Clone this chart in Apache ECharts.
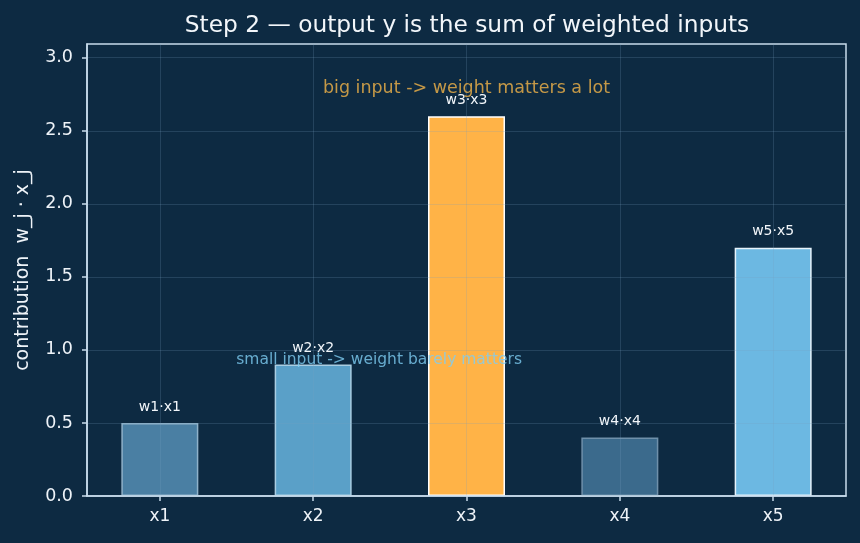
<!DOCTYPE html>
<html>
<head>
<meta charset="utf-8">
<title>weighted inputs</title>
<style>
  html, body { margin: 0; padding: 0; background: #0d2a42; }
  #chart { width: 860px; height: 543px; }
</style>
</head>
<body>
<div id="chart"></div>
<script src="https://cdn.jsdelivr.net/npm/echarts@6/dist/echarts.min.js"></script>
<script>
// data
var inputs = ['x1', 'x2', 'x3', 'x4', 'x5'];
var contrib = [0.5, 0.9, 2.6, 0.4, 1.7];
var barLabels = ['w1·x1', 'w2·x2', 'w3·x3', 'w4·x4', 'w5·x5'];
var xTicks = [0, 1, 2, 3, 4];
var yTicks = [0, 0.5, 1.0, 1.5, 2.0, 2.5, 3.0];
// annotations: [x, y, text]
var notes = [
  [2, 2.79, 'big input -> weight matters a lot'],
  [1.43, 0.93, 'small input -> weight barely matters']
];

var fills = ['#4a7fa3', '#5aa0c8', '#ffb347', '#3b6a8c', '#6cb8e2'];
var borders = ['#8fb2ca', '#a9cde2', '#ffffff', '#6f90aa', '#e6f3fc'];
var noteColors = ['#f2b448', '#7ecdf2'];

var frame = '#c8dcec';
var gridCol = 'rgba(120,160,190,0.22)';
var font = 'DejaVu Sans';

var barData = contrib.map(function (v, i) {
  return {
    value: [i, v],
    itemStyle: { color: fills[i], borderColor: borders[i], borderWidth: 1.5 },
    label: { formatter: barLabels[i] }
  };
});

var option = {
  backgroundColor: '#0d2a42',
  animation: false,
  title: {
    text: 'Step 2 — output y is the sum of weighted inputs',
    left: 462, top: 9, textAlign: 'center',
    textStyle: { color: '#f2f6fa', fontFamily: font, fontSize: 23.3, fontWeight: 'normal' }
  },
  grid: { left: 87, right: 14, top: 44, bottom: 47, show: true, borderColor: frame, borderWidth: 1.5, backgroundColor: 'transparent' },
  xAxis: {
    type: 'value', min: -0.475, max: 4.475, z: 5,
    axisLine: { show: true, onZero: false, lineStyle: { color: frame, width: 1.5 } },
    axisTick: { show: true, length: 5, customValues: xTicks, lineStyle: { color: frame, width: 1.5 } },
    axisLabel: {
      customValues: xTicks, margin: 12,
      color: '#eef3f8', fontFamily: font, fontSize: 17,
      formatter: function (v) { return inputs[Math.round(v)]; }
    },
    splitLine: { show: true, lineStyle: { color: gridCol, width: 1 } }
  },
  yAxis: {
    type: 'value', min: 0, max: 3.094, z: 5,
    name: 'contribution  w_j · x_j', nameLocation: 'middle', nameGap: 54,
    nameTextStyle: { color: '#eef3f8', fontFamily: font, fontSize: 19 },
    axisLine: { show: true, onZero: false, lineStyle: { color: frame, width: 1.5 } },
    axisTick: { show: true, length: 5, customValues: yTicks, lineStyle: { color: frame, width: 1.5 } },
    axisLabel: {
      customValues: yTicks, margin: 14,
      color: '#eef3f8', fontFamily: font, fontSize: 17.5,
      formatter: function (v) { return v.toFixed(1); }
    },
    splitLine: { show: true, lineStyle: { color: gridCol, width: 1 } }
  },
  series: [
    {
      type: 'bar', barWidth: 77, z: 2,
      data: barData,
      label: { show: true, position: 'top', distance: 9, color: '#f2f6fa', fontFamily: font, fontSize: 14 }
    },
    {
      type: 'scatter', symbolSize: 0, z: 10,
      data: notes.map(function (n, i) {
        return {
          value: [n[0], n[1]],
          label: { formatter: n[2], color: noteColors[i], fontSize: i === 0 ? 17.5 : 15.5 }
        };
      }),
      label: { show: true, position: 'inside', fontFamily: font }
    }
  ]
};

var chart = echarts.init(document.getElementById('chart'));
chart.setOption(option);
</script>
</body>
</html>
